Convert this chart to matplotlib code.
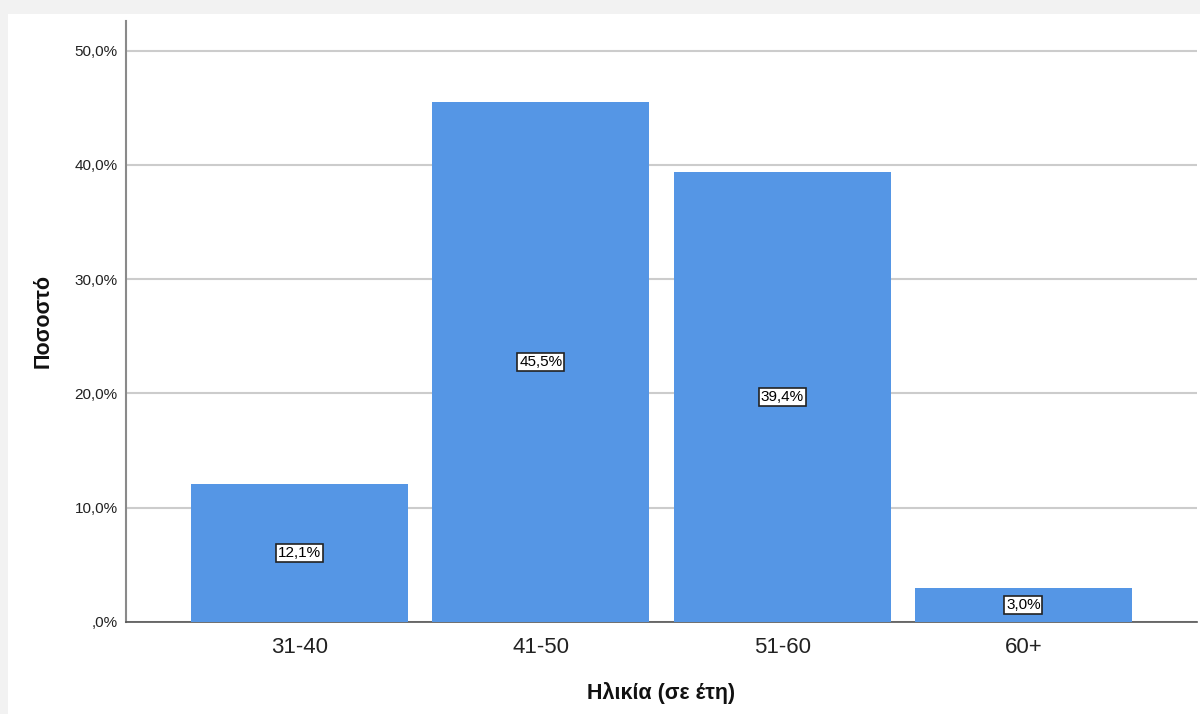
import matplotlib.pyplot as plt
from matplotlib.patches import Rectangle
from matplotlib.ticker import FuncFormatter

plt.rcParams['font.family'] = ['Liberation Sans', 'DejaVu Sans']

# Ηλικιακές ομάδες και ποσοστά
categories = ['31-40', '41-50', '51-60', '60+']
percents = [12.1, 45.5, 39.4, 3.0]
yticks = [0, 10, 20, 30, 40, 50]

BAR_COLOR = '#5596e5'


def pct_fmt(v, pos):
    s = f"{v:.1f}".replace('.', ',')
    if s.startswith('0,'):
        s = s[1:]
    return s + '%'


fig = plt.figure(figsize=(12, 7.14), dpi=100)
fig.patch.set_facecolor('#f2f2f2')
# λευκό πλαίσιο γραφήματος
panel = Rectangle((8 / 1200, 0), 1, 1 - 14 / 714, transform=fig.transFigure,
                  facecolor='white', edgecolor='none', zorder=-10)
fig.add_artist(panel)

ax = fig.add_axes([0.105, 0.1289, 0.8925, 0.8417])
ax.set_facecolor('white')

x = range(len(categories))
ax.bar(x, percents, width=0.9, color=BAR_COLOR, zorder=3)

for i, p in enumerate(percents):
    ax.text(i, p / 2, pct_fmt(p, None), ha='center', va='center', fontsize=11,
            zorder=4,
            bbox=dict(boxstyle='square,pad=0.12', facecolor='white',
                      edgecolor='#222222', linewidth=1.2))

ax.set_xlim(-0.72, 3.72)
ax.set_ylim(0, 52.6)
ax.set_yticks(yticks)
ax.yaxis.set_major_formatter(FuncFormatter(pct_fmt))
ax.set_xticks(list(x))
ax.set_xticklabels(categories)
ax.tick_params(axis='y', length=0, labelsize=11, pad=6, labelcolor='#222222')
ax.tick_params(axis='x', length=0, labelsize=16, pad=11, labelcolor='#222222')

ax.grid(axis='y', color='#cccccc', linewidth=1.5, zorder=1)
ax.set_axisbelow(True)

for s in ('top', 'right'):
    ax.spines[s].set_visible(False)
ax.spines['left'].set_color('#8a8a8a')
ax.spines['left'].set_linewidth(1.5)
ax.spines['bottom'].set_color('#555555')
ax.spines['bottom'].set_linewidth(1.2)

ax.set_xlabel('Ηλικία (σε έτη)', fontsize=15.5, fontweight='bold', labelpad=17,
              color='#111111')
ax.set_ylabel('Ποσοστό', fontsize=15.5, fontweight='bold', labelpad=15,
              color='#111111')

fig.savefig('out.png', dpi=100, facecolor=fig.get_facecolor())
